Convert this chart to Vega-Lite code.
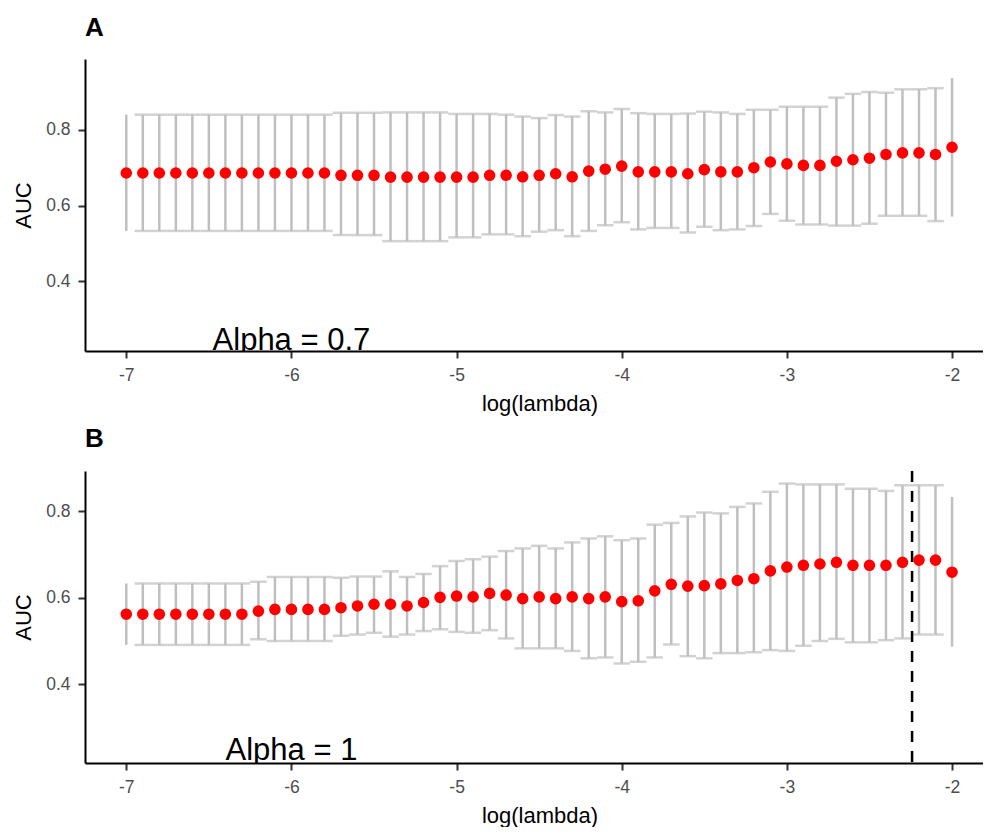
{
  "$schema": "https://vega.github.io/schema/vega-lite/v6.json",
  "padding": {"left": 12, "top": 15, "right": 0, "bottom": 0},
  "autosize": {"type": "pad"},
  "background": "white",
  "config": {
    "font": "Liberation Sans",
    "view": {"stroke": null},
    "axis": {"grid": false, "domainColor": "black", "domainWidth": 2, "tickColor": "#333333", "tickWidth": 2, "tickSize": 7, "labelColor": "#4D4D4D", "labelFontSize": 17.5, "labelFont": "Liberation Sans", "titleFont": "Liberation Sans", "titleFontSize": 22, "titleFontWeight": "normal", "titleColor": "black", "labelPadding": 8},
    "axisX": {"titlePadding": 10, "titleX": 454.5},
    "axisY": {"titlePadding": 10},
    "title": {"fontSize": 26, "fontWeight": "bold", "anchor": "start", "frame": "group", "font": "Liberation Sans", "color": "black", "offset": 18, "baseline": "alphabetic"}
  },
  "datasets": {
    "A": [
      {"x": -7.0, "auc": 0.686, "lo": 0.533, "hi": 0.840},
      {"x": -6.9, "auc": 0.686, "lo": 0.533, "hi": 0.840},
      {"x": -6.8, "auc": 0.686, "lo": 0.533, "hi": 0.840},
      {"x": -6.7, "auc": 0.686, "lo": 0.533, "hi": 0.840},
      {"x": -6.6, "auc": 0.686, "lo": 0.533, "hi": 0.840},
      {"x": -6.5, "auc": 0.686, "lo": 0.533, "hi": 0.840},
      {"x": -6.4, "auc": 0.686, "lo": 0.533, "hi": 0.840},
      {"x": -6.3, "auc": 0.686, "lo": 0.533, "hi": 0.840},
      {"x": -6.2, "auc": 0.686, "lo": 0.533, "hi": 0.840},
      {"x": -6.1, "auc": 0.686, "lo": 0.533, "hi": 0.840},
      {"x": -6.0, "auc": 0.686, "lo": 0.533, "hi": 0.840},
      {"x": -5.9, "auc": 0.686, "lo": 0.533, "hi": 0.840},
      {"x": -5.8, "auc": 0.686, "lo": 0.533, "hi": 0.840},
      {"x": -5.7, "auc": 0.680, "lo": 0.522, "hi": 0.845},
      {"x": -5.6, "auc": 0.680, "lo": 0.522, "hi": 0.845},
      {"x": -5.5, "auc": 0.680, "lo": 0.522, "hi": 0.845},
      {"x": -5.4, "auc": 0.675, "lo": 0.506, "hi": 0.846},
      {"x": -5.3, "auc": 0.675, "lo": 0.506, "hi": 0.846},
      {"x": -5.2, "auc": 0.675, "lo": 0.506, "hi": 0.846},
      {"x": -5.1, "auc": 0.675, "lo": 0.506, "hi": 0.846},
      {"x": -5.0, "auc": 0.675, "lo": 0.516, "hi": 0.842},
      {"x": -4.9, "auc": 0.675, "lo": 0.516, "hi": 0.842},
      {"x": -4.8, "auc": 0.680, "lo": 0.524, "hi": 0.842},
      {"x": -4.7, "auc": 0.680, "lo": 0.524, "hi": 0.840},
      {"x": -4.6, "auc": 0.676, "lo": 0.519, "hi": 0.835},
      {"x": -4.5, "auc": 0.680, "lo": 0.531, "hi": 0.831},
      {"x": -4.4, "auc": 0.684, "lo": 0.535, "hi": 0.839},
      {"x": -4.3, "auc": 0.676, "lo": 0.519, "hi": 0.835},
      {"x": -4.2, "auc": 0.691, "lo": 0.533, "hi": 0.849},
      {"x": -4.1, "auc": 0.696, "lo": 0.548, "hi": 0.846},
      {"x": -4.0, "auc": 0.704, "lo": 0.556, "hi": 0.855},
      {"x": -3.9, "auc": 0.689, "lo": 0.537, "hi": 0.844},
      {"x": -3.8, "auc": 0.689, "lo": 0.541, "hi": 0.842},
      {"x": -3.7, "auc": 0.689, "lo": 0.541, "hi": 0.842},
      {"x": -3.6, "auc": 0.684, "lo": 0.529, "hi": 0.843},
      {"x": -3.5, "auc": 0.695, "lo": 0.544, "hi": 0.848},
      {"x": -3.4, "auc": 0.689, "lo": 0.535, "hi": 0.846},
      {"x": -3.3, "auc": 0.689, "lo": 0.537, "hi": 0.842},
      {"x": -3.2, "auc": 0.700, "lo": 0.546, "hi": 0.853},
      {"x": -3.1, "auc": 0.715, "lo": 0.578, "hi": 0.853},
      {"x": -3.0, "auc": 0.710, "lo": 0.560, "hi": 0.861},
      {"x": -2.9, "auc": 0.706, "lo": 0.550, "hi": 0.861},
      {"x": -2.8, "auc": 0.706, "lo": 0.550, "hi": 0.861},
      {"x": -2.7, "auc": 0.717, "lo": 0.547, "hi": 0.885},
      {"x": -2.6, "auc": 0.721, "lo": 0.547, "hi": 0.895},
      {"x": -2.5, "auc": 0.725, "lo": 0.552, "hi": 0.900},
      {"x": -2.4, "auc": 0.735, "lo": 0.573, "hi": 0.898},
      {"x": -2.3, "auc": 0.739, "lo": 0.573, "hi": 0.907},
      {"x": -2.2, "auc": 0.739, "lo": 0.573, "hi": 0.907},
      {"x": -2.1, "auc": 0.735, "lo": 0.559, "hi": 0.910},
      {"x": -2.0, "auc": 0.754, "lo": 0.571, "hi": 0.937}
    ],
    "B": [
      {"x": -7.0, "auc": 0.562, "lo": 0.491, "hi": 0.633},
      {"x": -6.9, "auc": 0.562, "lo": 0.491, "hi": 0.633},
      {"x": -6.8, "auc": 0.562, "lo": 0.491, "hi": 0.633},
      {"x": -6.7, "auc": 0.562, "lo": 0.491, "hi": 0.633},
      {"x": -6.6, "auc": 0.562, "lo": 0.491, "hi": 0.633},
      {"x": -6.5, "auc": 0.562, "lo": 0.491, "hi": 0.633},
      {"x": -6.4, "auc": 0.562, "lo": 0.491, "hi": 0.633},
      {"x": -6.3, "auc": 0.562, "lo": 0.491, "hi": 0.633},
      {"x": -6.2, "auc": 0.569, "lo": 0.504, "hi": 0.637},
      {"x": -6.1, "auc": 0.573, "lo": 0.500, "hi": 0.648},
      {"x": -6.0, "auc": 0.573, "lo": 0.500, "hi": 0.648},
      {"x": -5.9, "auc": 0.573, "lo": 0.500, "hi": 0.648},
      {"x": -5.8, "auc": 0.573, "lo": 0.500, "hi": 0.648},
      {"x": -5.7, "auc": 0.577, "lo": 0.512, "hi": 0.646},
      {"x": -5.6, "auc": 0.581, "lo": 0.515, "hi": 0.649},
      {"x": -5.5, "auc": 0.585, "lo": 0.519, "hi": 0.649},
      {"x": -5.4, "auc": 0.585, "lo": 0.510, "hi": 0.661},
      {"x": -5.3, "auc": 0.581, "lo": 0.515, "hi": 0.648},
      {"x": -5.2, "auc": 0.589, "lo": 0.523, "hi": 0.655},
      {"x": -5.1, "auc": 0.601, "lo": 0.527, "hi": 0.673},
      {"x": -5.0, "auc": 0.604, "lo": 0.521, "hi": 0.685},
      {"x": -4.9, "auc": 0.602, "lo": 0.519, "hi": 0.689},
      {"x": -4.8, "auc": 0.610, "lo": 0.525, "hi": 0.695},
      {"x": -4.7, "auc": 0.606, "lo": 0.506, "hi": 0.708},
      {"x": -4.6, "auc": 0.598, "lo": 0.483, "hi": 0.714},
      {"x": -4.5, "auc": 0.602, "lo": 0.483, "hi": 0.720},
      {"x": -4.4, "auc": 0.598, "lo": 0.483, "hi": 0.714},
      {"x": -4.3, "auc": 0.602, "lo": 0.477, "hi": 0.728},
      {"x": -4.2, "auc": 0.598, "lo": 0.460, "hi": 0.737},
      {"x": -4.1, "auc": 0.602, "lo": 0.462, "hi": 0.742},
      {"x": -4.0, "auc": 0.591, "lo": 0.448, "hi": 0.733},
      {"x": -3.9, "auc": 0.593, "lo": 0.452, "hi": 0.737},
      {"x": -3.8, "auc": 0.616, "lo": 0.462, "hi": 0.769},
      {"x": -3.7, "auc": 0.631, "lo": 0.492, "hi": 0.773},
      {"x": -3.6, "auc": 0.627, "lo": 0.465, "hi": 0.788},
      {"x": -3.5, "auc": 0.628, "lo": 0.460, "hi": 0.797},
      {"x": -3.4, "auc": 0.632, "lo": 0.472, "hi": 0.795},
      {"x": -3.3, "auc": 0.640, "lo": 0.472, "hi": 0.810},
      {"x": -3.2, "auc": 0.644, "lo": 0.474, "hi": 0.818},
      {"x": -3.1, "auc": 0.662, "lo": 0.479, "hi": 0.845},
      {"x": -3.0, "auc": 0.671, "lo": 0.477, "hi": 0.864},
      {"x": -2.9, "auc": 0.675, "lo": 0.489, "hi": 0.862},
      {"x": -2.8, "auc": 0.678, "lo": 0.500, "hi": 0.862},
      {"x": -2.7, "auc": 0.682, "lo": 0.505, "hi": 0.862},
      {"x": -2.6, "auc": 0.675, "lo": 0.497, "hi": 0.852},
      {"x": -2.5, "auc": 0.675, "lo": 0.497, "hi": 0.852},
      {"x": -2.4, "auc": 0.675, "lo": 0.502, "hi": 0.847},
      {"x": -2.3, "auc": 0.682, "lo": 0.506, "hi": 0.860},
      {"x": -2.2, "auc": 0.687, "lo": 0.515, "hi": 0.860},
      {"x": -2.1, "auc": 0.687, "lo": 0.515, "hi": 0.860},
      {"x": -2.0, "auc": 0.659, "lo": 0.487, "hi": 0.833}
    ]
  },
  "spacing": 10,
  "vconcat": [
    {
      "title": {"text": "A"},
      "width": 898,
      "height": 292,
      "layer": [
        {
          "data": {"name": "A"},
          "mark": {"type": "rule", "color": "#BFBFBF", "strokeWidth": 2.5},
          "encoding": {
            "x": {"field": "x", "type": "quantitative", "title": "log(lambda)", "scale": {"domain": [-7.25, -1.8125], "nice": false, "zero": false}, "axis": {"values": [-7, -6, -5, -4, -3, -2], "labelExpr": "toString(datum.value)"}},
            "y": {"field": "lo", "type": "quantitative", "title": "AUC", "scale": {"domain": [0.216, 0.987], "nice": false, "zero": false}, "axis": {"values": [0.4, 0.6, 0.8], "format": ".1f"}},
            "y2": {"field": "hi"}
          }
        },
        {
          "data": {"name": "A"},
          "transform": [{"filter": "datum.x > -6.95 && datum.x < -2.05"}],
          "mark": {"type": "tick", "orient": "horizontal", "color": "#BFBFBF", "size": 16.5, "thickness": 2.5},
          "encoding": {
            "x": {"field": "x", "type": "quantitative", "title": "log(lambda)"},
            "y": {"field": "hi", "type": "quantitative", "title": "AUC"}
          }
        },
        {
          "data": {"name": "A"},
          "transform": [{"filter": "datum.x > -6.95 && datum.x < -2.05"}],
          "mark": {"type": "tick", "orient": "horizontal", "color": "#BFBFBF", "size": 16.5, "thickness": 2.5},
          "encoding": {
            "x": {"field": "x", "type": "quantitative", "title": "log(lambda)"},
            "y": {"field": "lo", "type": "quantitative", "title": "AUC"}
          }
        },
        {
          "data": {"name": "A"},
          "mark": {"type": "circle", "color": "#FF0000", "size": 135, "opacity": 1},
          "encoding": {
            "x": {"field": "x", "type": "quantitative", "title": "log(lambda)"},
            "y": {"field": "auc", "type": "quantitative", "title": "AUC"}
          }
        },
        {
          "data": {"values": [{"label": "Alpha = 0.7", "tx": -6, "ty": 0.219}]},
          "mark": {"type": "text", "fontSize": 31, "baseline": "alphabetic", "align": "center", "clip": true, "color": "black", "font": "Liberation Sans"},
          "encoding": {
            "x": {"field": "tx", "type": "quantitative", "title": "log(lambda)"},
            "y": {"field": "ty", "type": "quantitative", "title": "AUC"},
            "text": {"field": "label"}
          }
        }
      ]
    },
    {
      "title": {"text": "B"},
      "width": 898,
      "height": 292,
      "layer": [
        {
          "data": {"name": "B"},
          "mark": {"type": "rule", "color": "#BFBFBF", "strokeWidth": 2.5},
          "encoding": {
            "x": {"field": "x", "type": "quantitative", "title": "log(lambda)", "scale": {"domain": [-7.25, -1.8125], "nice": false, "zero": false}, "axis": {"values": [-7, -6, -5, -4, -3, -2], "labelExpr": "toString(datum.value)"}},
            "y": {"field": "lo", "type": "quantitative", "title": "AUC", "scale": {"domain": [0.218, 0.893], "nice": false, "zero": false}, "axis": {"values": [0.4, 0.6, 0.8], "format": ".1f"}},
            "y2": {"field": "hi"}
          }
        },
        {
          "data": {"name": "B"},
          "transform": [{"filter": "datum.x > -6.95 && datum.x < -2.05"}],
          "mark": {"type": "tick", "orient": "horizontal", "color": "#BFBFBF", "size": 16.5, "thickness": 2.5},
          "encoding": {
            "x": {"field": "x", "type": "quantitative", "title": "log(lambda)"},
            "y": {"field": "hi", "type": "quantitative", "title": "AUC"}
          }
        },
        {
          "data": {"name": "B"},
          "transform": [{"filter": "datum.x > -6.95 && datum.x < -2.05"}],
          "mark": {"type": "tick", "orient": "horizontal", "color": "#BFBFBF", "size": 16.5, "thickness": 2.5},
          "encoding": {
            "x": {"field": "x", "type": "quantitative", "title": "log(lambda)"},
            "y": {"field": "lo", "type": "quantitative", "title": "AUC"}
          }
        },
        {
          "data": {"name": "B"},
          "mark": {"type": "circle", "color": "#FF0000", "size": 135, "opacity": 1},
          "encoding": {
            "x": {"field": "x", "type": "quantitative", "title": "log(lambda)"},
            "y": {"field": "auc", "type": "quantitative", "title": "AUC"}
          }
        },
        {
          "data": {"values": [{"best": -2.242}]},
          "mark": {"type": "rule", "color": "black", "strokeWidth": 2.5, "strokeDash": [11, 9]},
          "encoding": {
            "x": {"field": "best", "type": "quantitative", "title": "log(lambda)"}
          }
        },
        {
          "data": {"values": [{"label": "Alpha = 1", "tx": -6, "ty": 0.224}]},
          "mark": {"type": "text", "fontSize": 31, "baseline": "alphabetic", "align": "center", "clip": true, "color": "black", "font": "Liberation Sans"},
          "encoding": {
            "x": {"field": "tx", "type": "quantitative", "title": "log(lambda)"},
            "y": {"field": "ty", "type": "quantitative", "title": "AUC"},
            "text": {"field": "label"}
          }
        }
      ]
    }
  ]
}
